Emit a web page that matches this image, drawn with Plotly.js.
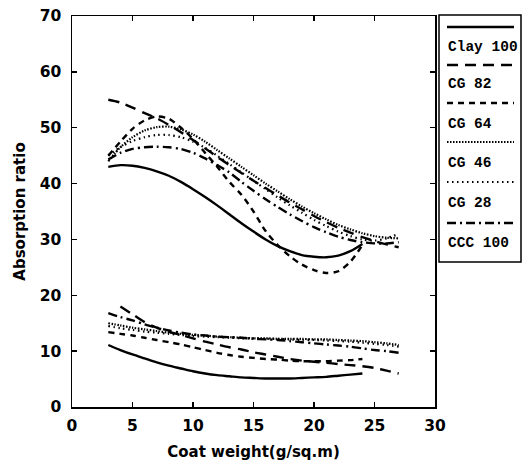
<!DOCTYPE html>
<html>
<head>
<meta charset="utf-8">
<script src="https://cdn.plot.ly/plotly-3.0.1.min.js"></script>
<style>html,body{margin:0;padding:0;background:#fff;}#chart{width:523px;height:469px;}</style>
</head>
<body>
<div id="chart"></div>
<script>
// ---- data ----
const seriesNames = ['Clay 100', 'CG 82', 'CG 64', 'CG 46', 'CG 28', 'CCC 100'];
const xTo24 = [3,4,5,6,7,8,9,10,11,12,13,14,15,16,17,18,19,20,21,22,23,24];
const xTo27 = [3,4,5,6,7,8,9,10,11,12,13,14,15,16,17,18,19,20,21,22,23,24,25,26,27];
const x4To27 = [4,5,6,7,8,9,10,11,12,13,14,15,16,17,18,19,20,21,22,23,24,25,26,27];

const clayUpper = [43.0,43.3,43.2,42.8,42.2,41.4,40.3,39.0,37.6,36.1,34.5,32.9,31.4,30.0,28.8,27.9,27.2,26.9,26.8,27.1,27.9,29.2];
const clayLower = [11.1,10.2,9.4,8.7,8.0,7.4,6.9,6.4,6.0,5.7,5.5,5.3,5.2,5.1,5.1,5.1,5.2,5.3,5.4,5.6,5.8,6.0];

const cg82Upper = [55.0,54.5,53.6,52.6,51.7,50.5,49.2,47.8,46.3,44.8,43.3,41.9,40.5,39.2,37.9,36.6,35.4,34.2,33.1,32.1,31.2,30.4,29.7,29.1,28.6];
const cg82Lower = [18.0,16.6,15.2,14.2,13.5,12.9,12.3,11.7,11.2,10.7,10.3,9.8,9.4,9.0,8.6,8.3,8.1,7.9,7.7,7.5,7.3,7.0,6.5,6.0];

const cg64Upper = [45.0,47.5,49.8,51.3,52.0,51.6,50.0,48.0,45.5,43.0,40.3,38.0,35.0,31.5,29.0,27.0,25.5,24.5,24.0,24.3,26.0,29.0];
const cg64Lower = [13.4,13.1,12.8,12.4,12.0,11.6,11.2,10.7,10.2,9.7,9.3,9.0,8.8,8.6,8.5,8.3,8.2,8.2,8.2,8.3,8.4,8.6];

const cg46Upper = [44.0,46.5,48.3,49.5,50.1,50.2,49.7,48.8,47.5,46.0,44.5,43.0,41.5,40.0,38.6,37.2,35.9,34.7,33.6,32.6,31.8,31.1,30.6,30.3,30.2];
const cg46Lower = [15.0,14.6,14.2,13.9,13.6,13.3,13.1,12.9,12.8,12.6,12.5,12.4,12.3,12.3,12.2,12.2,12.2,12.1,12.1,12.0,11.9,11.8,11.6,11.4,11.1];

const cg28Upper = [45.0,46.5,47.6,48.3,48.7,48.7,48.3,47.5,46.4,45.0,43.5,42.0,40.5,39.0,37.5,36.1,34.8,33.5,32.4,31.4,30.6,30.0,29.8,30.2,31.0];
const cg28Lower = [14.5,14.1,13.8,13.5,13.3,13.1,12.9,12.7,12.6,12.5,12.4,12.3,12.3,12.2,12.2,12.1,12.0,12.0,11.9,11.8,11.7,11.5,11.3,11.1,10.8];

const ccc100Upper = [44.3,45.5,46.2,46.5,46.6,46.5,46.2,45.5,44.5,43.3,42.0,40.3,38.7,37.2,35.8,34.5,33.3,32.2,31.3,30.5,29.9,29.5,29.3,29.3,29.5];
const ccc100Lower = [16.8,16.1,15.5,14.8,14.2,13.7,13.3,13.0,12.8,12.6,12.5,12.4,12.2,12.1,12.0,11.8,11.6,11.4,11.2,11.0,10.8,10.5,10.2,10.0,9.7];

const xTickVals = [0,5,10,15,20,25,30];
const yTickVals = [0,10,20,30,40,50,60,70];

// ---- styles ----
const styles = [
  {dash: 'solid', width: 2.4},
  {dash: '11px,7px', width: 2.4},
  {dash: '6px,5px', width: 2.4},
  {dash: '1.5px,1.5px', width: 2.2},
  {dash: '1.5px,3.5px', width: 2.2},
  {dash: '9px,4px,2px,4px', width: 2.4}
];

const seriesData = [
  [[xTo24, clayUpper], [xTo24, clayLower]],
  [[xTo27, cg82Upper], [x4To27, cg82Lower]],
  [[xTo24, cg64Upper], [xTo24, cg64Lower]],
  [[xTo27, cg46Upper], [xTo27, cg46Lower]],
  [[xTo27, cg28Upper], [xTo27, cg28Lower]],
  [[xTo27, ccc100Upper], [xTo27, ccc100Lower]]
];

const traces = [];
seriesData.forEach((pair, i) => {
  pair.forEach((seg) => {
    traces.push({
      x: seg[0], y: seg[1], type: 'scatter', mode: 'lines', name: seriesNames[i],
      legendgroup: seriesNames[i], showlegend: false, line: {shape: 'spline', smoothing: 0.8,
      color: '#000', dash: styles[i].dash, width: styles[i].width}
    });
  });
});

// ---- layout helpers (pixel -> paper) ----
const L = 72, R = 435, T = 16, B = 407;
const px = v => (v - L) / (R - L);
const py = v => (B - v) / (B - T);

const sansBold = 'DejaVu Sans, Verdana, sans-serif';
const tickFont = {family: sansBold, size: 15.5, color: '#000', weight: 'bold'};
const titleFont = {family: sansBold, size: 15, color: '#000', weight: 'bold'};
const legendFont = {family: 'Liberation Mono, Courier New, monospace', size: 14.5, color: '#000', weight: 'bold'};

const shapes = [{type: 'rect', xref: 'paper', yref: 'paper', x0: px(439), x1: px(521), y0: py(262), y1: py(15),
  line: {color: '#000', width: 1.5}}];
const annotations = [];
const sampleY = [27, 65, 103, 142, 182, 223];
const textY = [47, 84, 124, 163, 203, 243];
seriesNames.forEach((n, i) => {
  shapes.push({type: 'line', xref: 'paper', yref: 'paper', x0: px(447), x1: px(514), y0: py(sampleY[i]), y1: py(sampleY[i]),
    line: {color: '#000', width: styles[i].width, dash: styles[i].dash}});
  annotations.push({xref: 'paper', yref: 'paper', x: px(446), y: py(textY[i]), xanchor: 'left', yanchor: 'middle',
    text: n, showarrow: false, font: legendFont});
});

const layout = {
  width: 523, height: 469,
  margin: {l: L, r: 523 - R, t: T, b: 469 - B},
  paper_bgcolor: '#fff', plot_bgcolor: '#fff',
  showlegend: false,
  font: tickFont,
  xaxis: {range: [0, 30], tickvals: xTickVals, ticks: 'inside', ticklen: 5, tickwidth: 1.5, tickcolor: '#000',
    showline: true, linecolor: '#000', linewidth: 1.5, mirror: 'ticks', showgrid: false, zeroline: false,
    tickfont: tickFont, ticklabelstandoff: 4,
    title: {text: 'Coat weight(g/sq.m)', font: titleFont, standoff: 12}},
  yaxis: {range: [0, 70], tickvals: yTickVals, ticks: 'inside', ticklen: 5, tickwidth: 1.5, tickcolor: '#000',
    showline: true, linecolor: '#000', linewidth: 1.5, mirror: 'ticks', showgrid: false, zeroline: false,
    tickfont: tickFont, ticklabelstandoff: 6,
    title: {text: 'Absorption ratio', font: titleFont, standoff: 10}},
  shapes: shapes,
  annotations: annotations
};

Plotly.newPlot('chart', traces, layout, {displayModeBar: false, staticPlot: true});
</script>
</body>
</html>
